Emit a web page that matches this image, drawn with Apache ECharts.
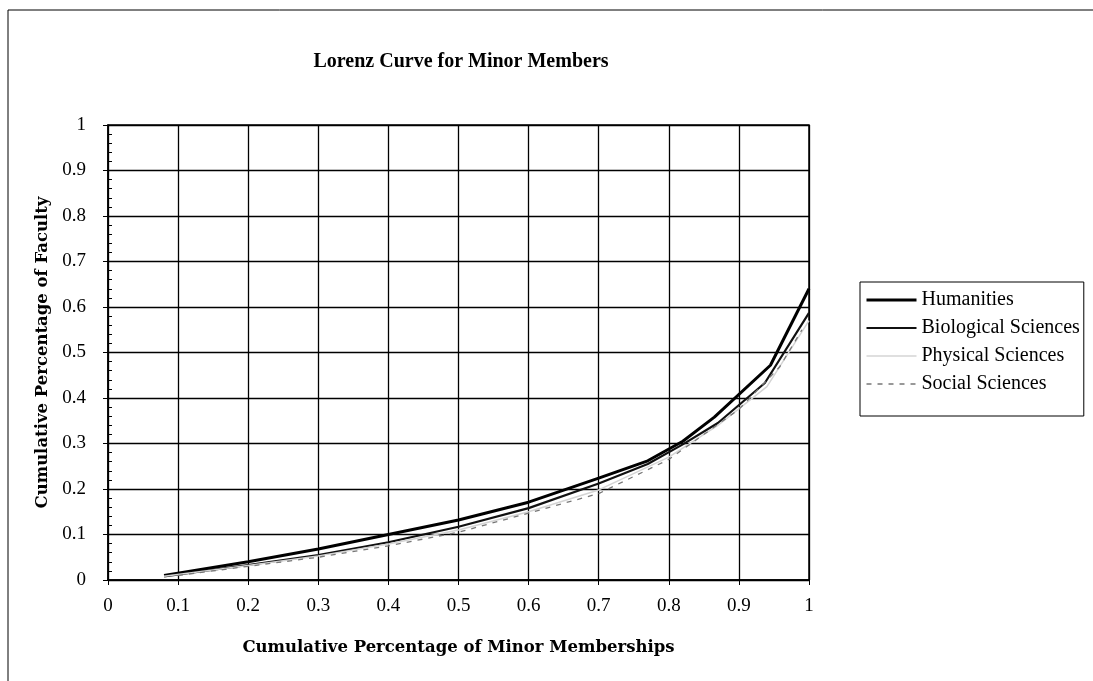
<!DOCTYPE html>
<html><head><meta charset="utf-8">
<script src="https://cdn.jsdelivr.net/npm/echarts@6/dist/echarts.min.js"></script>
<style>html,body{margin:0;padding:0;background:#fff}#c{width:1093px;height:681px}</style>
</head><body><div id="c"></div>
<script>
const xTicks = [0,0.1,0.2,0.3,0.4,0.5,0.6,0.7,0.8,0.9,1];
const yTicks = [0,0.1,0.2,0.3,0.4,0.5,0.6,0.7,0.8,0.9,1];
const seriesNames = ['Humanities','Biological Sciences','Physical Sciences','Social Sciences'];
const humX = [0.08,0.2,0.3,0.4,0.5,0.6,0.7,0.77,0.82,0.865,0.945,1.0];
const humY = [0.01,0.04,0.068,0.1,0.132,0.171,0.224,0.262,0.305,0.358,0.472,0.64];
const bioX = [0.08,0.2,0.3,0.4,0.5,0.6,0.7,0.77,0.82,0.87,0.937,1.0];
const bioY = [0.008,0.033,0.055,0.083,0.117,0.158,0.212,0.255,0.298,0.345,0.433,0.587];
const phyX = [0.08,0.2,0.3,0.4,0.5,0.6,0.7,0.8,0.87,0.94,1.0];
const phyY = [0.008,0.032,0.053,0.079,0.11,0.15,0.198,0.27,0.34,0.425,0.57];
const socX = [0.1,0.2,0.3,0.4,0.5,0.6,0.7,0.8,0.9,0.958,0.99];
const socY = [0.01,0.03,0.05,0.075,0.105,0.147,0.19,0.265,0.375,0.468,0.55];

const zip = (xs, ys) => xs.map((x, i) => [x, ys[i]]);
const serif = '"Liberation Serif", "Times New Roman", serif';
const wide = '"DejaVu Serif", serif';
const chart = echarts.init(document.getElementById('c'));
chart.setOption({
  animation: false,
  backgroundColor: '#fff',
  textStyle: { fontFamily: serif },
  title: {
    text: 'Lorenz Curve for Minor Members',
    left: 456, top: 47, textAlign: 'center',
    textStyle: { fontFamily: serif, fontSize: 20, fontWeight: 'bold', color: '#000' }
  },
  graphic: [{
    type: 'rect', shape: { x: 8, y: 10, width: 1100, height: 700 },
    style: { fill: 'none', stroke: '#000', lineWidth: 1 }, silent: true
  }],
  legend: {
    orient: 'vertical', left: 860, top: 282,
    itemWidth: 50, itemHeight: 10, itemGap: 8,
    backgroundColor: '#fff', borderColor: '#000', borderWidth: 1,
    padding: [8, 4, 22, 5],
    itemStyle: { opacity: 0 },
    textStyle: { fontFamily: serif, fontSize: 20, color: '#000' },
    data: [
      { name: seriesNames[0], lineStyle: { width: 3 } },
      { name: seriesNames[1], lineStyle: { width: 2 } },
      { name: seriesNames[2], lineStyle: { width: 1.5 } },
      { name: seriesNames[3], lineStyle: { width: 1.3 } }
    ]
  },
  grid: { left: 108, right: 284, top: 125, bottom: 101, show: true, borderColor: '#000', borderWidth: 1.5 },
  xAxis: {
    type: 'value', min: 0, max: 1, interval: 0.1,
    name: 'Cumulative Percentage of Minor Memberships', nameLocation: 'middle', nameGap: 59,
    nameTextStyle: { fontFamily: wide, fontSize: 16.5, fontWeight: 'bold', color: '#000' },
    axisLine: { lineStyle: { color: '#000', width: 1.5 } },
    axisTick: { show: true, length: 5, lineStyle: { color: '#000' } },
    axisLabel: { fontFamily: serif, fontSize: 19, color: '#000', margin: 17,
      formatter: v => String(xTicks[Math.round(v * 10)]) },
    splitLine: { show: true, lineStyle: { color: '#000', width: 1.3 } }
  },
  yAxis: [{
    type: 'value', min: 0, max: 1, interval: 0.1,
    name: 'Cumulative Percentage of Faculty', nameLocation: 'middle', nameGap: 53,
    nameTextStyle: { fontFamily: wide, fontSize: 16.5, fontWeight: 'bold', color: '#000' },
    axisLine: { show: true, lineStyle: { color: '#000', width: 1.5 } },
    axisTick: { show: true, length: 5, lineStyle: { color: '#000' } },
    axisLabel: { fontFamily: serif, fontSize: 19, color: '#000', margin: 22,
      formatter: v => String(yTicks[Math.round(v * 10)]) },
    splitLine: { show: true, lineStyle: { color: '#000', width: 1.3 } }
  }, {
    type: 'value', min: 0, max: 1, interval: 0.02, position: 'left',
    axisLine: { show: false }, axisLabel: { show: false }, splitLine: { show: false },
    axisTick: { show: true, inside: true, length: 4, lineStyle: { color: '#000' } }
  }],
  series: [
    { name: seriesNames[0], type: 'line', data: zip(humX, humY), symbol: 'none',
      lineStyle: { color: '#000', width: 3 }, itemStyle: { color: '#000' } },
    { name: seriesNames[1], type: 'line', data: zip(bioX, bioY), symbol: 'none',
      lineStyle: { color: '#111', width: 2.2 }, itemStyle: { color: '#111' } },
    { name: seriesNames[2], type: 'line', data: zip(phyX, phyY), symbol: 'none',
      lineStyle: { color: '#d4d4d4', width: 1.5 }, itemStyle: { color: '#d4d4d4' } },
    { name: seriesNames[3], type: 'line', data: zip(socX, socY), symbol: 'none',
      lineStyle: { color: '#777', width: 1.3, type: [5, 6] }, itemStyle: { color: '#777' } }
  ]
});
</script></body></html>
